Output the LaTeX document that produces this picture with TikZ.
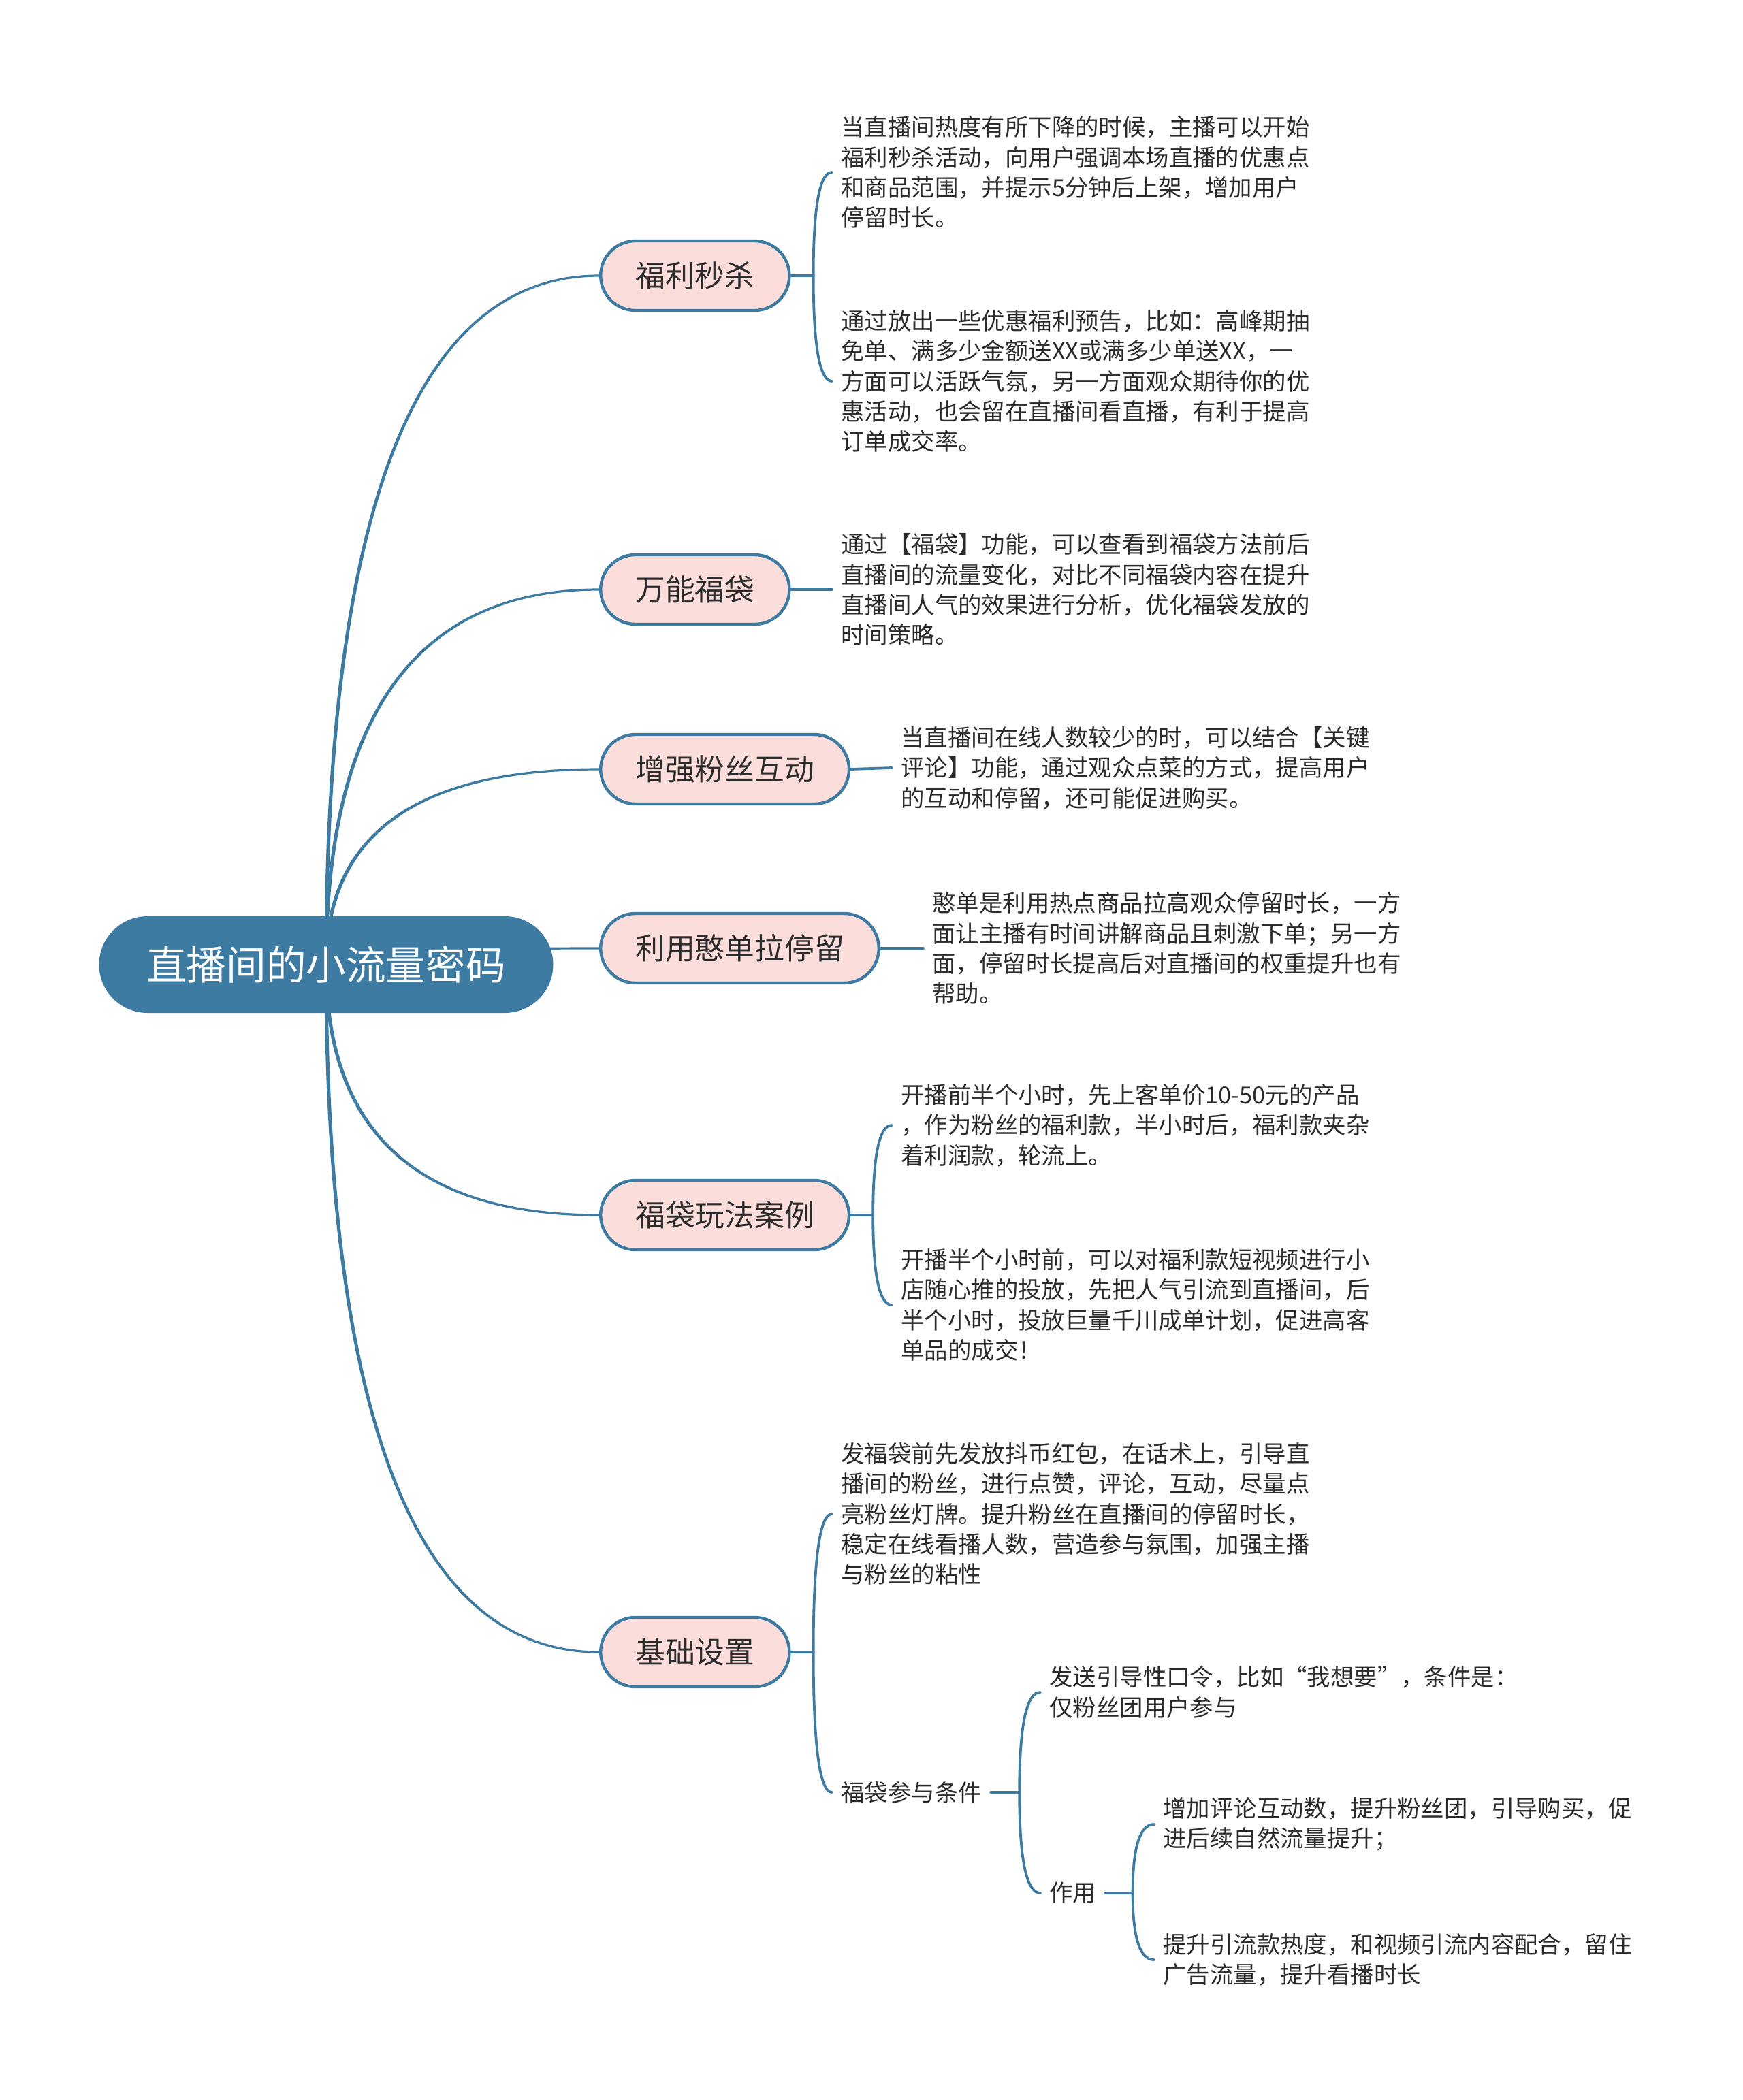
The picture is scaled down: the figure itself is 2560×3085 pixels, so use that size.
\documentclass[tikz,border=0pt]{standalone}
\usepackage{fontspec}
\setmainfont{Noto Sans CJK SC}
\usetikzlibrary{calc}
\definecolor{mainblue}{HTML}{3D7BA3}
\definecolor{pinkfill}{HTML}{FBDEDC}
\definecolor{txt}{HTML}{2B2B2B}
\pgfdeclarelayer{back}
\pgfdeclarelayer{edges}
\pgfsetlayers{back,edges,main}
% tapered quadratic-shaped link from root centre to a topic node; #2 = 1 (node above) or -1 (node below)
\newcommand\taperlink[2]{%
  \fill[mainblue] let \p0=(R.center), \p1=(#1.west) in
    (\x0-1.3pt,\y0)
    .. controls (\x0-1.3pt,{\y0+2/3*(\y1+(#2)*0.8pt-\y0)}) and ({\x1+2/3*(\x0-1.3pt-\x1)},{\y1+(#2)*0.8pt}) ..
    (\x1,{\y1+(#2)*0.8pt})
    -- (\x1,{\y1-(#2)*0.8pt})
    .. controls ({\x1+2/3*(\x0+1.3pt-\x1)},{\y1-(#2)*0.8pt}) and (\x0+1.3pt,{\y0+2/3*(\y1-(#2)*0.8pt-\y0)}) ..
    (\x0+1.3pt,\y0) -- cycle;}
% bracket branch: quadratic-shaped curve from spine point #1 to child node #2
\newcommand\brlink[2]{%
  \draw[conn] (#1) .. controls ($(#1)!0.6667!(#1 |- #2.west)$) and ($(#2.west)!0.6667!(#1 |- #2.west)$) .. (#2.west);}
\begin{document}
\begin{tikzpicture}[x=0.5pt,y=-0.5pt,
 rootbox/.style={draw=mainblue, fill=mainblue, line width=2pt, rounded corners=34.5pt, minimum width=331.5pt, minimum height=69pt, inner sep=0pt, text=white, font=\fontsize{29.3pt}{35pt}\selectfont},
 topic/.style={draw=mainblue, fill=pinkfill, line width=2.2pt, rounded corners=25.5pt, minimum height=51pt, inner xsep=25.5pt, inner ysep=0pt, text=txt, font=\fontsize{21.9pt}{26pt}\selectfont, anchor=west},
 leaf/.style={anchor=west, align=left, inner xsep=6.5pt, inner ysep=2pt, text=txt, font=\fontsize{17.2pt}{22.15pt}\selectfont},
 conn/.style={draw=mainblue, line width=1.9pt, line cap=round}]
\useasboundingbox (0,0) rectangle (2560,3085);
\begin{pgfonlayer}{back}
\fill[white] (0,0) rectangle (2560,3085);
\end{pgfonlayer}

% root
\node[rootbox] (R) at (479,1417) {直播间的小流量密码};

% main topics
\node[topic] (N1) at (880,405) {福利秒杀};
\node[topic] (N2) at (880,866) {万能福袋};
\node[topic] (N3) at (880,1130) {增强粉丝互动};
\node[topic] (N4) at (880,1393) {利用憨单拉停留};
\node[topic] (N5) at (880,1785) {福袋玩法案例};
\node[topic] (N6) at (880,2427) {基础设置};

% leaves
\node[leaf] (A1) at (1222,253) {当直播间热度有所下降的时候，主播可以开始\\福利秒杀活动，向用户强调本场直播的优惠点\\和商品范围，并提示5分钟后上架，增加用户\\停留时长。};
\node[leaf] (A2) at (1222,560) {通过放出一些优惠福利预告，比如：高峰期抽\\免单、满多少金额送XX或满多少单送XX，一\\方面可以活跃气氛，另一方面观众期待你的优\\惠活动，也会留在直播间看直播，有利于提高\\订单成交率。};
\node[leaf] (B1) at (1222,866) {通过【福袋】功能，可以查看到福袋方法前后\\直播间的流量变化，对比不同福袋内容在提升\\直播间人气的效果进行分析，优化福袋发放的\\时间策略。};
\node[leaf] (C1) at (1310,1128) {当直播间在线人数较少的时，可以结合【关键\\评论】功能，通过观众点菜的方式，提高用户\\的互动和停留，还可能促进购买。};
\node[leaf] (D1) at (1356,1393) {憨单是利用热点商品拉高观众停留时长，一方\\面让主播有时间讲解商品且刺激下单；另一方\\面，停留时长提高后对直播间的权重提升也有\\帮助。};
\node[leaf] (E1) at (1310,1653) {开播前半个小时，先上客单价10-50元的产品\\，作为粉丝的福利款，半小时后，福利款夹杂\\着利润款，轮流上。};
\node[leaf] (E2) at (1310,1917) {开播半个小时前，可以对福利款短视频进行小\\店随心推的投放，先把人气引流到直播间，后\\半个小时，投放巨量千川成单计划，促进高客\\单品的成交！};
\node[leaf] (F1) at (1222,2224) {发福袋前先发放抖币红包，在话术上，引导直\\播间的粉丝，进行点赞，评论，互动，尽量点\\亮粉丝灯牌。提升粉丝在直播间的停留时长，\\稳定在线看播人数，营造参与氛围，加强主播\\与粉丝的粘性};
\node[leaf] (F2) at (1222,2633) {福袋参与条件};
\node[leaf] (F2a) at (1528,2486) {发送引导性口令，比如“我想要”，条件是：\\仅粉丝团用户参与};
\node[leaf] (F2b) at (1528,2781) {作用};
\node[leaf] (F2b1) at (1695,2680) {增加评论互动数，提升粉丝团，引导购买，促\\进后续自然流量提升；};
\node[leaf] (F2b2) at (1695,2879) {提升引流款热度，和视频引流内容配合，留住\\广告流量，提升看播时长};

\begin{pgfonlayer}{edges}
% root to main topics (tapered curves)
\taperlink{N1}{1}
\taperlink{N2}{1}
\taperlink{N3}{1}
\taperlink{N4}{1}
\taperlink{N5}{-1}
\taperlink{N6}{-1}

% single connections
\draw[conn] (N2.east) -- (B1.west);
\draw[conn] (N3.east) -- (C1.west);
\draw[conn] (N4.east) -- (D1.west);

% bracket N1
\draw[conn] (N1.east) -- ++(33,0) coordinate (s1);
\brlink{s1}{A1}
\brlink{s1}{A2}

% bracket N5
\draw[conn] (N5.east) -- ++(33,0) coordinate (s5);
\brlink{s5}{E1}
\brlink{s5}{E2}

% bracket N6
\draw[conn] (N6.east) -- ++(33,0) coordinate (s6);
\brlink{s6}{F1}
\brlink{s6}{F2}

% bracket F2
\draw[conn] (F2.east) -- ++(42,0) coordinate (s7);
\brlink{s7}{F2a}
\brlink{s7}{F2b}

% bracket F2b
\draw[conn] (F2b.east) -- ++(40,0) coordinate (s8);
\brlink{s8}{F2b1}
\brlink{s8}{F2b2}
\end{pgfonlayer}
\end{tikzpicture}
\end{document}
